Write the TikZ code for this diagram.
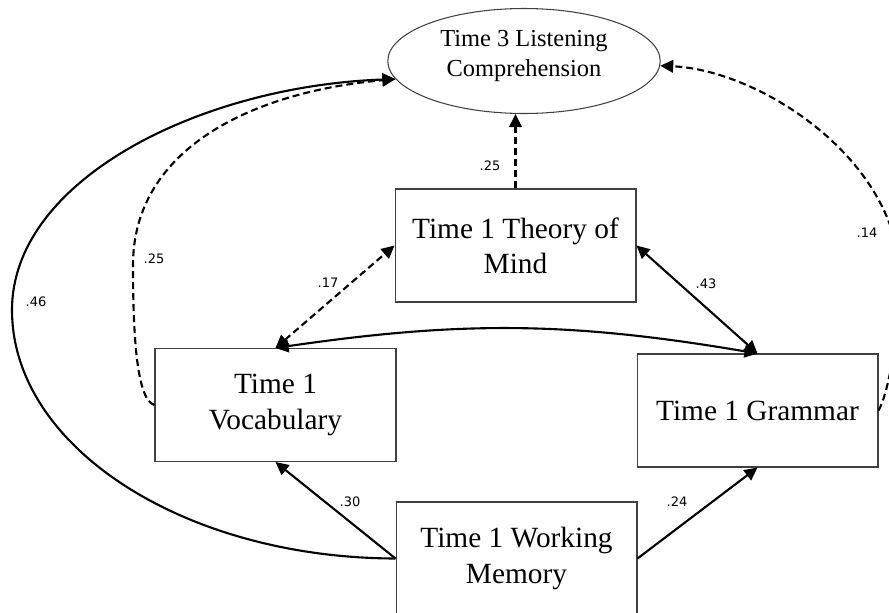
\documentclass[tikz,border=0pt]{standalone}
\usepackage{fontspec}
\setmainfont{Liberation Serif}
\newfontfamily\coeffont{DejaVu Sans}
\usetikzlibrary{arrows.meta,shapes.geometric}

\tikzset{
  varbox/.style={draw=black!75, line width=0.6pt, rectangle, minimum width=4.82cm,
    minimum height=2.26cm, inner sep=0pt, align=center,
    font=\fontsize{16.7}{20}\selectfont},
  latent/.style={draw=black!75, line width=0.6pt, ellipse, minimum width=5.45cm,
    minimum height=2.1cm, inner sep=0pt},
  latenttext/.style={align=center, font=\fontsize{13.9}{17}\selectfont},
  coef/.style={font=\coeffont\fontsize{7.4}{8}\selectfont, inner sep=1pt},
  path1/.style={line width=1.2pt, -{Triangle[length=2.6mm,width=2.5mm]}},
  path2/.style={line width=1.2pt, {Triangle[length=2.6mm,width=2.5mm]}-{Triangle[length=2.6mm,width=2.5mm]}},
  weak/.style={dash pattern=on 1.4mm off 0.8mm}
}

\begin{document}
\begin{tikzpicture}[x=0.02cm, y=-0.02cm]
  \clip (0,0) rectangle (889,612);

  % outcome (latent) and predictors
  \node[latent] (ell) at (524,61) {};
  \node[latenttext] (elltext) at (524,56) {Time 3 Listening\\Comprehension};
  \node[varbox] (tom) at (515.5,245.5) {Time 1 Theory of\\Mind};
  \node[varbox] (voc) at (275.5,405) {Time 1\\Vocabulary};
  \node[varbox] (gra) at (757.5,410.5) {Time 1 Grammar};
  \node[varbox] (wm)  at (516.5,558.5) {Time 1 Working\\Memory};

  % direct paths to listening comprehension
  \draw[path1, weak] (tom.north) -- (tom.north |- ell.south);
  \draw[path1] (wm.west) .. controls (184,558) and (12,447) .. (12,310)
        .. controls (12,180) and (200,86) .. (ell.188);
  \draw[path1, weak] (voc.west) .. controls (136,400) and (133,330) .. (133,265)
        .. controls (133,150) and (250,92) .. (ell.188);
  \draw[path1, weak] (gra.east) .. controls (888,395) and (900,330) .. (900,280)
        .. controls (900,160) and (760,70) .. (ell.-2);

  % correlations among time 1 measures
  \draw[path2, weak] (voc.north) -- (tom.west);
  \draw[path2] (tom.east) -- (gra.north);
  \draw[path2] (voc.north) to[bend left=9] (gra.north);

  % working memory paths
  \draw[path1] (wm.west) -- (voc.south);
  \draw[path1] (wm.east) -- (gra.south);

  % coefficients
  \node[coef] (c1) at (490,166) {.25};
  \node[coef] (c2) at (328,283) {.17};
  \node[coef] (c3) at (706,284) {.43};
  \node[coef] (c4) at (154,259) {.25};
  \node[coef] (c5) at (36,302) {.46};
  \node[coef] (c6) at (867,233) {.14};
  \node[coef] (c7) at (350,502) {.30};
  \node[coef] (c8) at (677,502) {.24};
\end{tikzpicture}
\end{document}
